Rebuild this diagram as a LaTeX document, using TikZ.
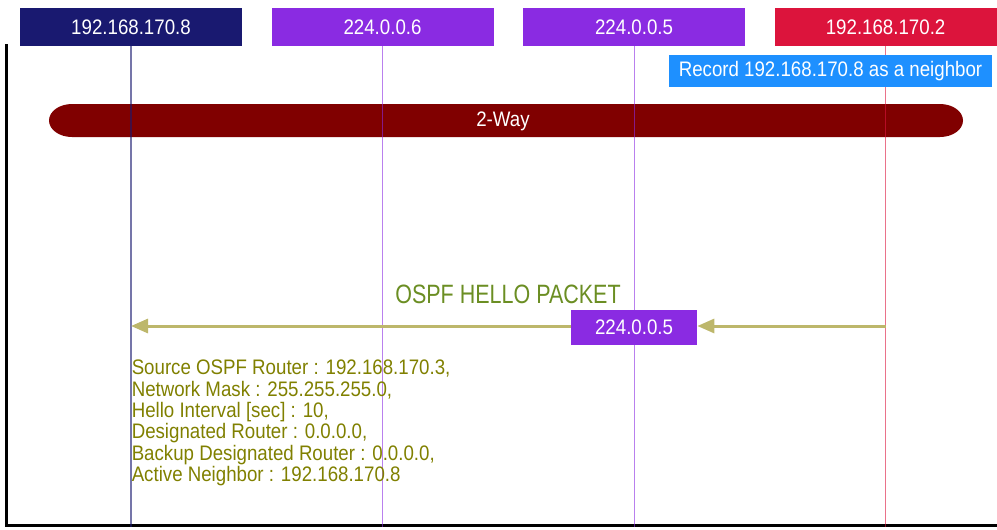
\documentclass[tikz,border=0pt]{standalone}
\usepackage{fontspec}
\setmainfont{Liberation Sans}[FakeStretch=0.89]
\newfontfamily\titlefont{Liberation Sans}[FakeStretch=0.81]
\usetikzlibrary{arrows.meta,positioning}

\definecolor{hostnavy}{HTML}{191970}
\definecolor{mcastpurple}{HTML}{8A2BE2}
\definecolor{hostcrimson}{HTML}{DC143C}
\definecolor{notablue}{HTML}{1E90FF}
\definecolor{statered}{HTML}{800000}
\definecolor{msgkhaki}{HTML}{BDB76B}
\definecolor{fieldolive}{HTML}{808000}
\definecolor{titleolive}{HTML}{6B8E23}

\begin{document}
\begin{tikzpicture}[
    x=0.75pt, y=-0.75pt,
    node distance=21.75pt,
    head/.style={rectangle, fill=#1, text=white, minimum width=166.5pt, minimum height=28.5pt, inner sep=0pt, font=\fontsize{15.75pt}{18pt}\selectfont},
    lifeline/.style={draw=#1, draw opacity=0.6, line width=0.8pt},
    note/.style={rectangle, fill=notablue, text=white, minimum width=242.25pt, minimum height=24pt, inner sep=0pt, font=\fontsize{15.75pt}{18pt}\selectfont},
    msgbox/.style={rectangle, fill=mcastpurple, text=white, minimum width=94.5pt, minimum height=26.25pt, inner sep=0pt, font=\fontsize{15.75pt}{18pt}\selectfont},
    msgarrow/.style={-{Triangle[length=12.75pt, width=10.5pt]}, draw=msgkhaki, line width=2.25pt},
    frame/.style={draw=black, line width=2.25pt}
]
\useasboundingbox (0,0) rectangle (997,529);

% participants
\node[head=hostnavy] (h1) at (131,27) {192.168.170.8};
\node[head=mcastpurple, right=of h1] (h2) {224.0.0.6};
\node[head=mcastpurple, right=of h2] (h3) {224.0.0.5};
\node[head=hostcrimson, right=of h3] (h4) {192.168.170.2};

\coordinate (base) at (0,527);
\coordinate (frame top) at (6,44);
\coordinate (frame corner) at (6,525);
\coordinate (frame end) at (997,525);
\draw[frame] (frame top) -- (frame corner) -- (frame end);

% 2-Way state bar
\fill[statered] (72,104) -- (940,104)
    arc[start angle=90, end angle=-90, x radius=17.25pt, y radius=12.375pt]
    -- (72,137)
    arc[start angle=270, end angle=90, x radius=17.25pt, y radius=12.375pt] -- cycle;
\node[text=white, font=\fontsize{15.75pt}{18pt}\selectfont] (twoway) at (503,121) {2-Way};

% lifelines
\draw[lifeline=hostnavy] (h1.south) -- (h1 |- base);
\draw[lifeline=mcastpurple] (h2.south) -- (h2 |- base);
\draw[lifeline=mcastpurple] (h3.south) -- (h3 |- base);
\draw[lifeline=hostcrimson] (h4.south) -- (h4 |- base);

\node[note] (record) at (830.5,71) {Record 192.168.170.8 as a neighbor};

% hello packet
\node[text=titleolive, font=\titlefont\fontsize{19.9pt}{22pt}\selectfont] (hello) at (508,294.5) {OSPF HELLO PACKET};
\node[msgbox] (mcast) at (h3 |- 0,327.5) {224.0.0.5};
\coordinate (src) at (h4 |- 0,326);
\coordinate (dst) at (h1 |- 0,326);
\draw[msgarrow] (src) -- (mcast.east |- src);
\draw[msgarrow] (mcast.west |- dst) -- (dst);

\node[anchor=north west, inner sep=0pt, align=left, text=fieldolive, font=\fontsize{15.75pt}{15.95pt}\selectfont] (fields) at (131.5,360) {Source OSPF Router : 192.168.170.3,\\
Network Mask : 255.255.255.0,\\
Hello Interval [sec] : 10,\\
Designated Router : 0.0.0.0,\\
Backup Designated Router : 0.0.0.0,\\
Active Neighbor : 192.168.170.8};
\end{tikzpicture}
\end{document}
